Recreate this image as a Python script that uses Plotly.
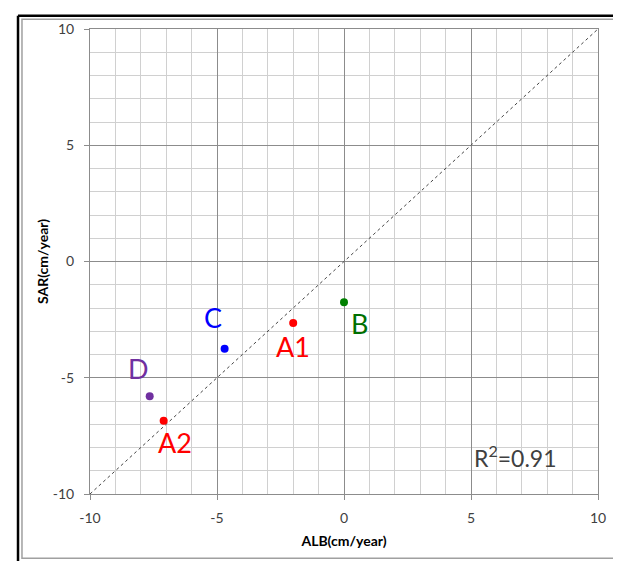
import plotly.graph_objects as go

names = ["A1", "B", "C", "D", "A2"]
alb = [-2.0, 0.0, -4.7, -7.65, -7.1]
sar = [-2.65, -1.75, -3.75, -5.8, -6.85]
marker_colors = ["#FF0000", "#008000", "#0000FF", "#7030A0", "#FF0000"]
label_colors = ["#FF0000", "#007000", "#0000FF", "#7030A0", "#FF0000"]
# label offsets (in data units) relative to each point
label_dx = [0.0, 0.6, -0.45, -0.45, 0.45]
label_dy = [-1.0, -0.9, 1.35, 1.2, -0.95]
line_x = [-10, 10]
line_y = [-10, 10]
tick_vals = [-10, -5, 0, 5, 10]
tick_text = ["-10", "-5", "0", "5", "10"]
r2_text = "R<sup>2</sup>=0.91"

FONT = "Lato, 'Open Sans', sans-serif"

fig = go.Figure()
fig.add_trace(go.Scatter(x=line_x, y=line_y, mode="lines",
                         line=dict(color="#444444", width=1, dash="dot"),
                         hoverinfo="skip", showlegend=False))
fig.add_trace(go.Scatter(x=alb, y=sar, mode="markers",
                         marker=dict(color=marker_colors, size=8),
                         text=names, showlegend=False))

for n, x, y, c, dx, dy in zip(names, alb, sar, label_colors, label_dx, label_dy):
    fig.add_annotation(x=x + dx, y=y + dy, text=n, showarrow=False,
                       font=dict(family=FONT, size=27, color=c),
                       xanchor="center", yanchor="middle")

fig.add_annotation(x=6.75, y=-8.4, text=r2_text, showarrow=False,
                   font=dict(family=FONT, size=23, color="#404040"),
                   xanchor="center", yanchor="middle")

axis_common = dict(
    range=[-10, 10], tickmode="array", tickvals=tick_vals, ticktext=tick_text,
    showgrid=True, gridcolor="#8C8C8C", gridwidth=1,
    minor=dict(tickmode="linear", tick0=0, dtick=1, showgrid=True,
               gridcolor="#D0D0D0", gridwidth=1),
    showline=True, linecolor="#8C8C8C", linewidth=1, mirror=True,
    ticks="outside", ticklen=5, tickcolor="#8C8C8C",
    zeroline=False,
    tickfont=dict(family=FONT, size=14, color="#404040"),
)

fig.update_xaxes(**axis_common, ticklabelstandoff=6,
                 title=dict(text="<b>ALB(cm/year)</b>", standoff=11,
                            font=dict(family=FONT, size=14, color="#000000")))
fig.update_yaxes(**axis_common, ticklabelstandoff=7,
                 title=dict(text="<b>SAR(cm/year)</b>", standoff=0,
                            font=dict(family=FONT, size=14, color="#000000")))

# outer frame decorations
fig.add_shape(type="rect", xref="paper", yref="paper",
              x0=-0.1339, x1=1.08, y0=-0.138, y1=1.0212,
              line=dict(color="#A0A0A0", width=1.5), layer="below")
fig.add_shape(type="line", xref="paper", yref="paper",
              x0=-0.1417, x1=1.08, y0=1.0287, y1=1.0287,
              line=dict(color="#000000", width=2.5))
fig.add_shape(type="line", xref="paper", yref="paper",
              x0=-0.1417, x1=-0.1417, y0=-0.2, y1=1.0287,
              line=dict(color="#000000", width=2.5))

# page body has an 8px margin, so the figure is sized/offset to compensate
fig.update_layout(
    width=613, height=553,
    margin=dict(l=82, r=23, t=15, b=67),
    paper_bgcolor="white", plot_bgcolor="white",
    showlegend=False,
)

fig.write_html("out.html")
